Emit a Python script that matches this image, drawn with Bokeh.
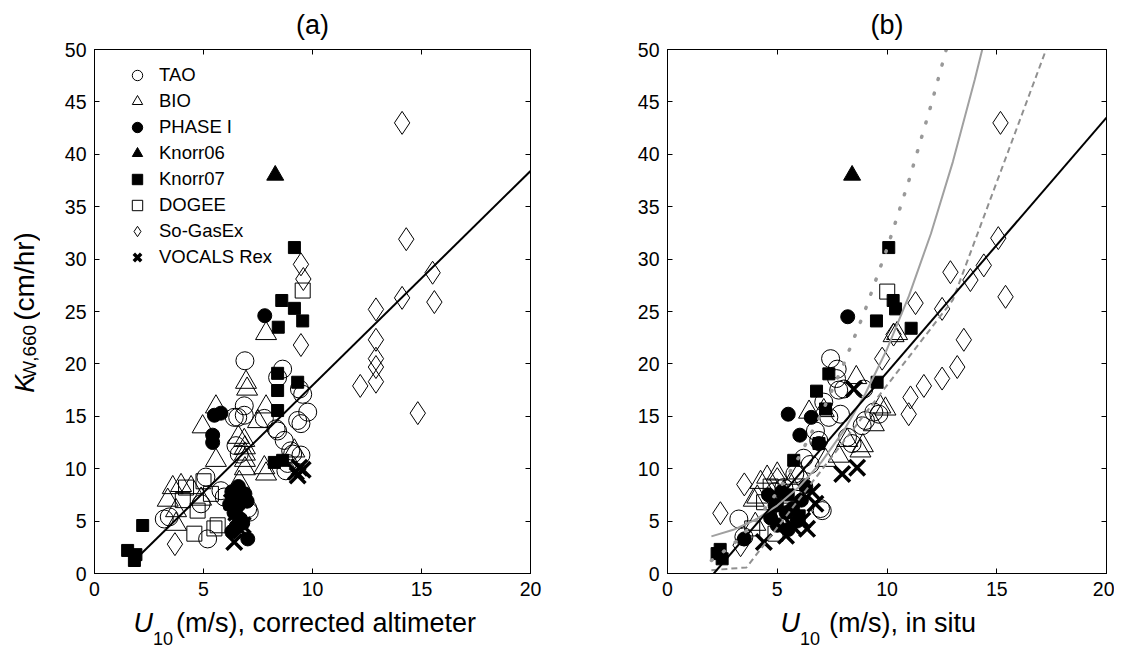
import math
from bokeh.plotting import figure
from bokeh.models import (Label, Legend, LegendItem, LinearAxis, FixedTicker, Range1d,
                          CustomJSTickFormatter)
from bokeh.layouts import row, column
from bokeh.embed import file_html
from bokeh.resources import INLINE

FONT = "Liberation Sans"

# ---------------- data: panel (a), corrected altimeter wind ----------------
A_TAO_U = [6.9, 8.63, 8.4, 6.87, 6.87, 6.41, 7.79, 9.55, 9.78, 9.32, 8.4, 8.7, 6.49, 6.64, 9.0, 8.86,
           9.47, 8.78, 5.11, 5.8, 3.43, 5.19, 7.1, 5.95, 4.89, 9.4, 9.47, 9.09, 3.2, 7.03, 6.57, 8.33]
A_TAO_K = [20.3, 19.5, 18.7, 16.0, 15.1, 14.9, 14.8, 17.1, 15.4, 14.6, 13.6, 12.7, 12.2, 11.4, 11.7, 10.5,
           11.3, 9.8, 9.2, 7.9, 5.4, 3.3, 5.85, 7.3, 6.65, 17.6, 14.3, 11.4, 5.2, 6.2, 14.9, 13.8]
A_BIO_U = [7.87, 6.95, 7.0, 5.57, 4.96, 5.57, 6.87, 6.9, 6.9, 6.9, 6.9, 7.87, 7.79, 7.87, 3.59, 3.97,
           4.43, 3.36, 3.74, 3.74, 9.17, 4.89, 6.64, 7.5, 6.6]
A_BIO_K = [22.9, 18.25, 17.6, 15.9, 14.0, 10.8, 12.7, 12.0, 11.4, 10.8, 10.0, 15.9, 10.1, 9.5, 8.2, 8.4,
           8.2, 7.0, 6.0, 4.7, 11.7, 7.1, 8.7, 14.5, 13.0]
A_PH1_U = [7.81, 5.5, 5.8, 5.42, 5.42, 7.03, 6.3, 6.5, 6.6, 6.4, 6.7, 6.9, 6.5, 6.3, 6.6, 7.0, 6.8, 6.2]
A_PH1_K = [24.6, 15.1, 15.3, 13.2, 12.5, 3.3, 7.8, 7.2, 6.5, 5.8, 5.2, 7.6, 4.5, 4.0, 8.3, 6.9, 4.8, 6.6]
A_K06_U = [8.29]
A_K06_K = [38.0]
A_K07_U = [9.17, 8.59, 9.17, 9.55, 8.43, 8.4, 8.4, 9.32, 8.4, 8.25, 8.63, 2.21, 1.52, 1.83, 1.9, 6.5, 6.8]
A_K07_K = [31.1, 26.05, 25.3, 24.1, 23.5, 19.1, 17.46, 18.25, 15.55, 10.6, 10.8, 4.58, 2.2, 1.24, 1.8, 6.0, 7.5]
A_DOG_U = [9.55, 4.58, 5.65, 4.73, 4.05, 5.34, 5.5, 4.2, 5.0]
A_DOG_K = [27.0, 3.8, 4.6, 6.0, 7.0, 7.6, 4.3, 8.2, 8.8]
A_SOG_U = [14.11, 14.3, 15.51, 15.59, 14.11, 12.91, 12.91, 12.91, 12.91, 12.91, 12.19, 14.83, 9.47, 9.58, 9.47, 3.69]
A_SOG_K = [43.0, 31.9, 28.7, 25.9, 26.3, 25.2, 22.3, 20.5, 19.7, 18.3, 17.9, 15.3, 29.5, 28.1, 21.8, 2.8]
A_VOC_U = [9.4, 9.32, 9.55, 9.24, 6.41, 6.72, 6.8, 6.5, 6.3]
A_VOC_K = [10.1, 9.35, 9.9, 9.7, 3.0, 4.1, 4.6, 5.8, 6.8]
A_FIT_U = [1.98, 20.0]
A_FIT_K = [1.55, 38.4]

# ---------------- data: panel (b), in situ wind ----------------
B_TAO_U = [7.43, 7.73, 7.7, 8.03, 7.12, 7.35, 7.88, 9.4, 9.02, 8.87, 6.74, 6.89, 8.41, 7.05, 3.25, 3.48,
           5.3, 8.94, 9.63, 6.97, 7.8, 8.2, 6.2, 5.8, 4.9, 6.5]
B_TAO_K = [20.5, 19.5, 18.6, 17.6, 16.35, 14.9, 15.2, 15.4, 14.6, 14.1, 13.6, 12.7, 12.4, 6.0, 5.2, 3.5,
           8.2, 17.6, 15.2, 6.2, 17.5, 13.0, 11.0, 9.5, 7.8, 10.4]
B_BIO_U = [10.3, 8.6, 9.7, 9.4, 7.12, 6.45, 8.79, 7.2, 4.24, 4.54, 5.0, 4.09, 4.0, 9.93, 8.19, 10.46,
           3.93, 5.6, 6.0, 7.8, 8.9, 5.3]
B_BIO_K = [22.7, 18.7, 15.9, 14.2, 15.55, 15.4, 11.7, 10.8, 8.7, 9.2, 9.5, 7.3, 4.7, 15.7, 12.7, 22.9,
           7.0, 8.5, 9.6, 11.2, 12.2, 7.8]
B_PH1_U = [8.21, 5.5, 6.55, 6.03, 6.89, 3.5, 4.6, 4.9, 5.2, 5.4, 5.7, 5.0, 5.9, 6.1, 4.7, 5.5, 6.3]
B_PH1_K = [24.5, 15.2, 14.9, 13.2, 12.4, 3.3, 7.5, 6.5, 7.8, 5.8, 6.2, 4.6, 5.0, 7.0, 5.3, 4.2, 8.3]
B_K06_U = [8.41]
B_K06_K = [38.0]
B_K07_U = [10.08, 10.28, 10.39, 9.52, 11.1, 9.55, 7.35, 6.79, 7.2, 5.75, 6.9, 2.49, 2.26, 2.4, 5.0, 5.5, 6.0]
B_K07_K = [31.1, 26.05, 25.25, 24.1, 23.4, 18.25, 19.05, 17.4, 15.7, 10.8, 12.4, 1.4, 1.9, 2.3, 6.5, 7.5, 5.5]
B_DOG_U = [10.01, 4.92, 3.86, 5.3, 4.4, 5.7, 4.7]
B_DOG_K = [26.9, 3.8, 4.3, 6.0, 6.8, 7.8, 8.3]
B_SOG_U = [15.17, 15.07, 14.41, 13.8, 12.89, 15.4, 12.51, 11.3, 13.5, 13.2, 12.51, 11.68, 11.07, 10.99,
           9.78, 10.3, 2.41, 3.5, 3.33, 5.0]
B_SOG_K = [43.0, 32.0, 29.4, 28.0, 28.75, 26.4, 25.25, 25.8, 22.3, 19.7, 18.6, 17.9, 16.8, 15.2,
           20.5, 22.8, 5.75, 8.5, 2.7, 9.0]
B_VOC_U = [8.49, 7.96, 8.64, 6.59, 6.14, 5.75, 4.39, 6.74, 6.36, 5.4]
B_VOC_K = [17.6, 9.5, 10.1, 7.8, 5.06, 4.4, 3.0, 6.65, 4.26, 3.6]
B_FIT_U = [2.11, 20.0]
B_FIT_K = [0.0, 43.5]

# reference curves
DOT_U = [2.0, 3.0, 4.0, 5.0, 6.0, 7.0, 8.0, 9.0, 10.0, 11.0, 12.0, 12.7]
DOT_K = [1.24, 2.79, 4.96, 7.75, 11.16, 15.19, 19.84, 25.11, 31.0, 37.51, 44.64, 50.0]
SOLID_U = [2.0, 3.0, 4.0, 5.0, 6.0, 7.0, 8.0, 9.0, 10.0, 11.0, 12.0, 13.0, 14.0, 14.34]
SOLID_K = [3.54, 4.17, 5.13, 6.48, 8.28, 10.61, 13.53, 17.10, 21.4, 26.49, 32.42, 39.28, 47.13, 50.0]
DASH_U = [2.0, 3.6, 13.0, 17.25]
DASH_K = [0.32, 0.58, 26.1, 50.0]

SERIES = ["TAO", "BIO", "PHASE I", "Knorr06", "Knorr07", "DOGEE", "So-GasEx", "VOCALS Rex"]
X_TICKS = [0, 5, 10, 15, 20]
Y_TICKS = [0, 5, 10, 15, 20, 25, 30, 35, 40, 45, 50]

STYLE = {
    "TAO": dict(marker="circle", size=18, fill_color=None, line_color="black", line_width=1),
    "BIO": dict(marker="triangle", size=21, fill_color=None, line_color="black", line_width=1),
    "PHASE I": dict(marker="circle", size=14, fill_color="black", line_color="black", line_width=1),
    "Knorr06": dict(marker="triangle", size=17, fill_color="black", line_color="black", line_width=1),
    "Knorr07": dict(marker="square", size=12, fill_color="black", line_color="black", line_width=1),
    "DOGEE": dict(marker="square", size=15, fill_color=None, line_color="black", line_width=1),
    "So-GasEx": dict(marker="diamond", size=23, fill_color=None, line_color="black", line_width=1),
    "VOCALS Rex": dict(marker="x", size=22, fill_color=None, line_color="black", line_width=3.5),
}

FRAME_H = 524
TOP = 49
BOTTOM = 32
ROW_H = TOP + FRAME_H + BOTTOM          # 605
PAGE_H = 648
XLAB_H = PAGE_H - ROW_H                 # 43
YLAB_W = 40


def style_axis(ax, show_labels):
    ax.major_tick_in = 5
    ax.major_tick_out = 0
    ax.minor_tick_in = 0
    ax.minor_tick_out = 0
    ax.axis_line_color = "black"
    ax.major_tick_line_color = "black"
    ax.major_label_text_font = FONT
    ax.major_label_text_color = "black"
    if show_labels:
        ax.major_label_text_font_size = "19.5px"
        ax.major_label_standoff = 8
    else:
        # tick-only mirror axis: empty labels
        ax.formatter = CustomJSTickFormatter(code="return ''")
        ax.major_label_text_font_size = "1px"
        ax.major_label_standoff = 0


def make_panel(frame_w, bl, br, data, title, fit, curves):
    p = figure(frame_width=frame_w, frame_height=FRAME_H,
               min_border_left=bl, min_border_right=br, min_border_top=TOP,
               min_border_bottom=BOTTOM,
               x_range=Range1d(0, 20), y_range=Range1d(0, 50),
               output_backend="svg", toolbar_location=None)
    p.grid.visible = False
    p.outline_line_color = "black"
    p.outline_line_width = 1
    p.add_layout(LinearAxis(), "above")
    p.add_layout(LinearAxis(), "right")
    for ax in p.xaxis:
        style_axis(ax, ax in p.below)
        ax.ticker = FixedTicker(ticks=X_TICKS)
    for ax in p.yaxis:
        style_axis(ax, ax in p.left)
        ax.ticker = FixedTicker(ticks=Y_TICKS)

    p.title.text = title
    p.title.align = "center"
    p.title.vertical_align = "top"
    p.title.standoff = 16
    p.title.text_font = FONT
    p.title.text_font_size = "27px"
    p.title.text_font_style = "normal"
    p.title.text_color = "black"

    rends = {}
    for name, (us, ks) in zip(SERIES, data):
        rends[name] = p.scatter(us, ks, **STYLE[name])

    if curves:
        p.line(DOT_U, DOT_K, line_color="#999999", line_width=3.5, line_dash="1 14", line_cap="round")
        p.line(SOLID_U, SOLID_K, line_color="#a0a0a0", line_width=2)
        p.line(DASH_U, DASH_K, line_color="#909090", line_width=2, line_dash="6 4")
    p.line(fit[0], fit[1], line_color="black", line_width=2)
    return p, rends


def helper_fig(w, h):
    f = figure(width=w, height=h, x_range=Range1d(0, w), y_range=Range1d(0, h),
               min_border=0, output_backend="svg", toolbar_location=None,
               x_axis_type=None, y_axis_type=None)
    f.grid.visible = False
    f.outline_line_color = None
    return f


data_a = [(A_TAO_U, A_TAO_K), (A_BIO_U, A_BIO_K), (A_PH1_U, A_PH1_K), (A_K06_U, A_K06_K),
          (A_K07_U, A_K07_K), (A_DOG_U, A_DOG_K), (A_SOG_U, A_SOG_K), (A_VOC_U, A_VOC_K)]
data_b = [(B_TAO_U, B_TAO_K), (B_BIO_U, B_BIO_K), (B_PH1_U, B_PH1_K), (B_K06_U, B_K06_K),
          (B_K07_U, B_K07_K), (B_DOG_U, B_DOG_K), (B_SOG_U, B_SOG_K), (B_VOC_U, B_VOC_K)]

pa, ra = make_panel(436, 54, 57, data_a, "(a)", (A_FIT_U, A_FIT_K), False)
pb, rb = make_panel(439, 80, 8, data_b, "(b)", (B_FIT_U, B_FIT_K), True)

legend = Legend(items=[LegendItem(label=n, renderers=[ra[n]]) for n in SERIES],
                location=(30, 303), glyph_width=26, glyph_height=26, label_height=26,
                spacing=0, padding=0, margin=0, label_standoff=9,
                label_text_font=FONT, label_text_font_size="18.5px", label_text_color="black",
                border_line_color=None, background_fill_alpha=0)
pa.add_layout(legend)

# ---- y-axis label (left strip): italic K, subscript W,660, (cm/hr); pieces placed by centre
ylab = helper_fig(YLAB_W, ROW_H)
for txt, cx, cy, size, style in [("K", 24, 386, "27px", "italic"),
                                 ("W,660", 29, 349, "19px", "normal"),
                                 ("(cm/hr)", 24, 262, "28px", "normal")]:
    ylab.add_layout(Label(x=cx, y=ROW_H - cy, text=txt, angle=math.pi / 2, text_font=FONT,
                          text_font_style=style, text_font_size=size,
                          text_baseline="middle", text_align="center", text_color="black"))

# ---- x-axis labels (bottom strip), placed by vertical centre
xlab = helper_fig(YLAB_W + 547 + 527, XLAB_H)
MAIN_C = PAGE_H - 622
SUB_C = PAGE_H - 638
for ux, sx, rx, rest in [(133, 152.5, 175.5, " (m/s), corrected altimeter"),
                         (780, 799.5, 828.5, " (m/s), in situ")]:
    xlab.add_layout(Label(x=ux, y=MAIN_C, text="U", text_font=FONT, text_font_style="italic",
                          text_font_size="27px", text_baseline="middle", text_align="left",
                          text_color="black"))
    xlab.add_layout(Label(x=sx, y=SUB_C, text="10", text_font=FONT, text_font_size="18px",
                          text_baseline="middle", text_align="left", text_color="black"))
    xlab.add_layout(Label(x=rx, y=MAIN_C, text=rest, text_font=FONT, text_font_size="27px",
                          text_baseline="middle", text_align="left", text_color="black"))

layout = column(row(ylab, pa, pb), xlab)
open("out.html", "w").write(file_html(layout, INLINE))
